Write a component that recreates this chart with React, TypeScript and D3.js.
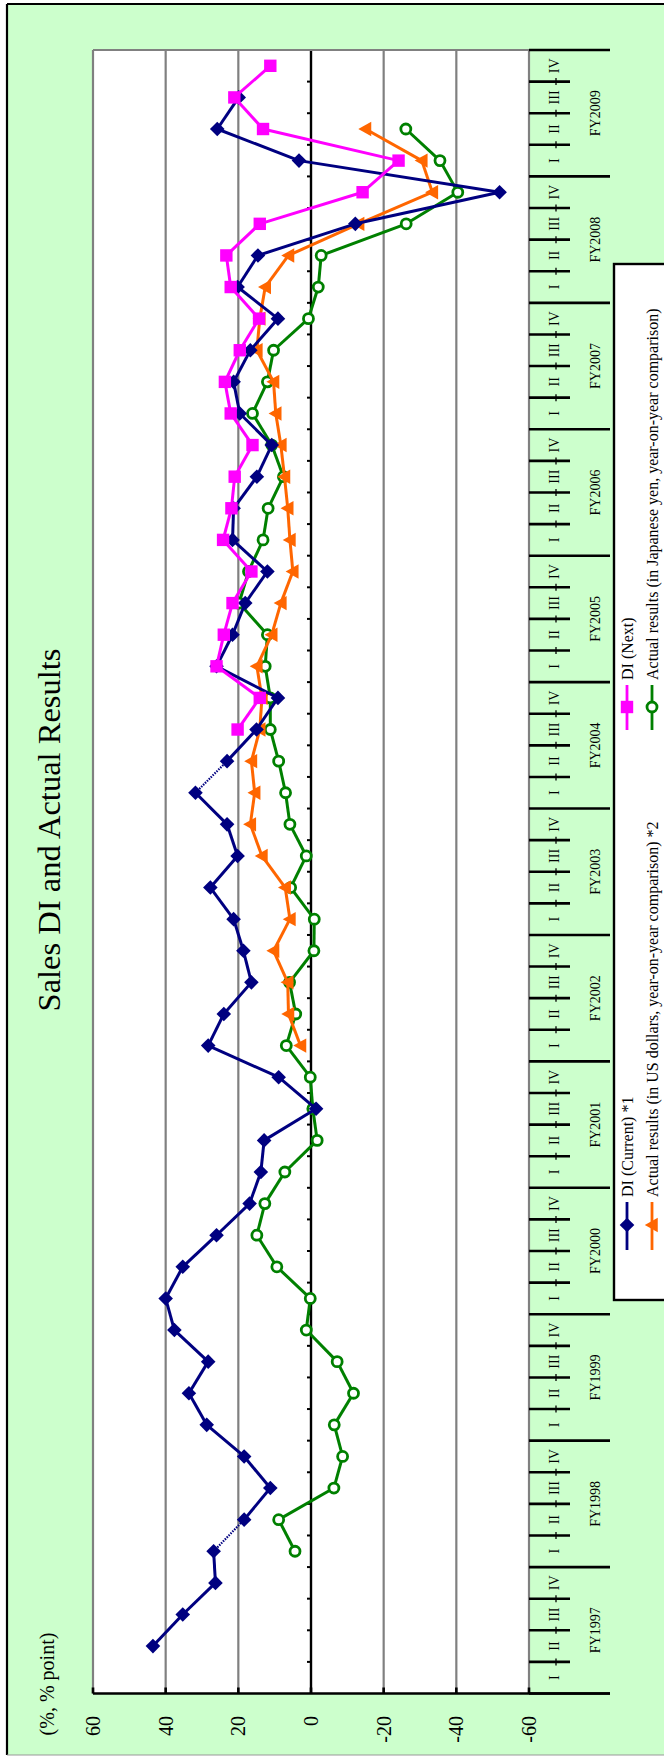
import React from "react";
import * as d3 from "d3";

// ---------- data ----------
const fiscalYears = ["FY1997","FY1998","FY1999","FY2000","FY2001","FY2002","FY2003","FY2004","FY2005","FY2006","FY2007","FY2008","FY2009"];
const quarterLabels = ["I","II","III","IV"];
const valueTicks = [60, 40, 20, 0, -20, -40, -60];

// index 0 = FY1997 I ... 51 = FY2009 IV
const diCurrent: (number | null)[] = [
  null, 43.5, 35.3, 26.3, 26.8, 18.4, 11.2, 18.4,
  28.7, 33.6, 28.3, 37.6, 40.0, 35.3, 26.0, 16.9,
  13.8, 12.9, -1.4, 8.9, 28.3, 24.0, 16.4, 18.6,
  21.3, 27.7, 20.2, 23.1, 31.8, 23.1, 15.0, 9.1,
  26.0, 21.6, 18.1, 12.0, 21.6, 21.3, 14.9, 10.8,
  19.6, 21.3, 16.7, 9.1, 20.2, 14.6, -12.2, -51.9,
  3.3, 25.8, 19.9, null,
];
const diCurrentDottedAfter = [4, 28]; // segments i -> i+1 drawn dotted

const diNext: (number | null)[] = [
  null, null, null, null, null, null, null, null,
  null, null, null, null, null, null, null, null,
  null, null, null, null, null, null, null, null,
  null, null, null, null, null, null, 20.2, 14.1,
  26.0, 24.0, 21.6, 16.4, 24.2, 21.9, 21.0, 16.1,
  22.1, 23.7, 19.6, 14.3, 22.1, 23.3, 14.1, -14.2,
  -24.1, 13.2, 21.1, 11.2,
];

const usdActual: (number | null)[] = [
  null, null, null, null, null, null, null, null,
  null, null, null, null, null, null, null, null,
  null, null, null, null, 2.9, 6.2, 6.4, 10.3,
  5.8, 7.1, 13.5, 16.7, 15.5, 16.4, 14.1, 13.5,
  14.9, 10.8, 8.3, 5.0, 5.8, 6.4, 7.3, 8.3,
  9.7, 10.3, 14.9, 14.1, 12.6, 6.2, -13.1, -33.4,
  -30.5, -15.0, null, null,
];

const jpyActual: (number | null)[] = [
  null, null, null, null, 4.4, 8.9, -6.3, -8.7,
  -6.4, -11.7, -7.2, 1.3, 0.2, 9.4, 14.9, 12.7,
  7.2, -1.7, -0.5, 0.2, 6.8, 4.2, 5.9, -0.8,
  -0.9, 5.6, 1.3, 5.8, 7.0, 8.9, 11.2, 11.2,
  12.6, 12.0, 19.8, 17.2, 13.2, 11.8, 7.6, 10.8,
  16.1, 12.0, 10.3, 0.7, -2.0, -2.8, -26.2, -40.4,
  -35.5, -26.1, null, null,
];

const legendLabels = [
  "DI (Current) *1",
  "Actual results (in US dollars, year-on-year comparison) *2",
  "DI (Next)",
  "Actual results (in Japanese yen, year-on-year comparison)",
];

const NAVY = "#000080";
const MAGENTA = "#FF00FF";
const ORANGE = "#FF6600";
const GREEN = "#008000";
const GRID = "#808080";
const BG = "#CCFFCC";
const FONT = "'Liberation Serif', 'Times New Roman', serif";

// ---------- layout ----------
const W = 664, H = 1756;
const PL = 93, PR = 529, PT = 50, PB = 1693.5;

const x = d3.scaleLinear().domain([60, -60]).range([PL, PR]);
const nQ = fiscalYears.length * 4;
const idx = d3.range(nQ);
const y = d3.scaleBand<number>().domain(idx).range([PB, PT]).paddingInner(0).paddingOuter(0);
const bw = y.bandwidth();
const yc = (i: number) => (y(i) as number) + bw / 2;
const yBound = (i: number) => (i < nQ ? (y(i) as number) + bw : (y(nQ - 1) as number));

type Shape = "diamond" | "square" | "triangle" | "circle";

function Marker({ shape, cx, cy, color }: { shape: Shape; cx: number; cy: number; color: string }) {
  if (shape === "diamond") {
    const s = 7.3;
    return <path d={`M${cx},${cy - s}L${cx + s},${cy}L${cx},${cy + s}L${cx - s},${cy}Z`} fill={color} />;
  }
  if (shape === "square") {
    const s = 6.2;
    return <rect x={cx - s} y={cy - s} width={2 * s} height={2 * s} fill={color} />;
  }
  if (shape === "triangle") {
    const s = 7.2;
    return <path d={`M${cx - s},${cy}L${cx + s * 0.8},${cy - s}L${cx + s * 0.8},${cy + s}Z`} fill={color} />;
  }
  return <circle cx={cx} cy={cy} r={5} fill="#fff" stroke={color} strokeWidth={2.8} />;
}

function Series({ data, color, shape, dottedAfter = [] }: { data: (number | null)[]; color: string; shape: Shape; dottedAfter?: number[] }) {
  const line = d3
    .line<[number, number]>()
    .x((d) => x(d[1]))
    .y((d) => yc(d[0]));
  const segs: React.ReactNode[] = [];
  for (let i = 0; i < data.length - 1; i++) {
    const a = data[i], b = data[i + 1];
    if (a == null || b == null) continue;
    const dotted = dottedAfter.includes(i);
    segs.push(
      <path
        key={"s" + i}
        d={line([[i, a], [i + 1, b]]) || ""}
        fill="none"
        stroke={color}
        strokeWidth={dotted ? 2.2 : 3}
        strokeDasharray={dotted ? "1.5 1.2" : undefined}
      />
    );
  }
  const marks = data.map((v, i) =>
    v == null ? null : <Marker key={"m" + i} shape={shape} cx={x(v)} cy={yc(i)} color={color} />
  );
  return (
    <g>
      {segs}
      {marks}
    </g>
  );
}

function VText({ x: tx, y: ty, size, anchor = "middle", children }: { x: number; y: number; size: number; anchor?: string; children: React.ReactNode }) {
  return (
    <text
      transform={`translate(${tx},${ty}) rotate(-90)`}
      textAnchor={anchor as any}
      dominantBaseline="central"
      fontFamily={FONT}
      fontSize={size}
      fill="#000"
    >
      {children}
    </text>
  );
}

export default function App() {
  const legend = [
    { label: legendLabels[0], color: NAVY, shape: "diamond" as Shape, cx: 627, l1: 1202, l2: 1250, my: 1225, ty: 1197 },
    { label: legendLabels[1], color: ORANGE, shape: "triangle" as Shape, cx: 652, l1: 1202, l2: 1250, my: 1225, ty: 1197 },
    { label: legendLabels[2], color: MAGENTA, shape: "square" as Shape, cx: 627, l1: 685, l2: 730, my: 707, ty: 680 },
    { label: legendLabels[3], color: GREEN, shape: "circle" as Shape, cx: 652, l1: 685, l2: 730, my: 707, ty: 680 },
  ];

  return (
    <div style={{ position: "absolute", left: 0, top: 0 }}>
      <svg width={W} height={H} style={{ display: "block" }}>
        {/* background frame */}
        <rect x={0} y={0} width={W} height={H} fill="#fff" />
        <rect x={7} y={4} width={W + 20} height={1751} fill={BG} />
        <line x1={7} y1={4} x2={W} y2={4} stroke="#000" strokeWidth={2.2} />
        <line x1={7} y1={4} x2={7} y2={1755} stroke="#000" strokeWidth={2.2} />
        <line x1={7} y1={1755} x2={W} y2={1755} stroke="#999" strokeWidth={1} />

        {/* title */}
        <text
          transform={`translate(60,830) rotate(-90)`}
          textAnchor="middle"
          fontFamily={FONT}
          fontSize={32.5}
          fill="#000"
        >
          Sales DI and Actual Results
        </text>

        {/* plot area */}
        <rect x={PL} y={PT} width={PR - PL} height={PB - PT} fill="#fff" />
        {valueTicks.map((v) => (
          <line key={"g" + v} x1={x(v)} x2={x(v)} y1={PT} y2={PB} stroke={v === 0 ? "#000" : GRID} strokeWidth={v === 0 ? 2.4 : 2.2} />
        ))}
        <line x1={PL} x2={PR} y1={PT} y2={PT} stroke={GRID} strokeWidth={2.2} />

        {/* minor ticks on zero line */}
        {d3.range(1, nQ).map((i) => (
          <line key={"zt" + i} x1={x(0) - 4} x2={x(0)} y1={yBound(i)} y2={yBound(i)} stroke="#000" strokeWidth={2} />
        ))}

        {/* category table */}
        {d3.range(0, nQ + 1).map((i) => {
          const yy = i === nQ ? PT : yBound(i);
          const isYear = i % 4 === 0;
          return (
            <g key={"ct" + i}>
              <line x1={PR} x2={isYear ? 610 : 570} y1={yy} y2={yy} stroke="#000" strokeWidth={2.6} />
              {!isYear && <line x1={556} x2={556} y1={yy - 3.5} y2={yy + 3.5} stroke="#000" strokeWidth={1.3} />}
            </g>
          );
        })}
        {idx.map((i) => (
          <VText key={"q" + i} x={554} y={yc(i)} size={14}>
            {quarterLabels[i % 4]}
          </VText>
        ))}
        {fiscalYears.map((fy, k) => (
          <VText key={fy} x={595} y={(yc(k * 4) + yc(k * 4 + 3)) / 2} size={14}>
            {fy}
          </VText>
        ))}

        {/* value axis */}
        <line x1={PL} x2={610} y1={PB} y2={PB} stroke="#000" strokeWidth={2.6} />
        {valueTicks.map((v) => (
          <line key={"vt" + v} x1={x(v)} x2={x(v)} y1={PB - 6} y2={PB} stroke="#000" strokeWidth={2.6} />
        ))}
        {valueTicks.map((v) => (
          <VText key={"vl" + v} x={x(v)} y={1716} size={20} anchor="end">
            {String(v)}
          </VText>
        ))}
        <VText x={47} y={1684} size={20}>
          (%, % point)
        </VText>

        {/* series */}
        <Series data={jpyActual} color={GREEN} shape="circle" />
        <Series data={usdActual} color={ORANGE} shape="triangle" />
        <Series data={diCurrent} color={NAVY} shape="diamond" dottedAfter={diCurrentDottedAfter} />
        <Series data={diNext} color={MAGENTA} shape="square" />

        {/* legend */}
        <rect x={614} y={264} width={100} height={1036} fill="#fff" stroke="#000" strokeWidth={2.4} />
        {legend.map((e) => (
          <g key={e.label}>
            <line x1={e.cx} x2={e.cx} y1={e.l1} y2={e.l2} stroke={e.color} strokeWidth={2.8} />
            <Marker shape={e.shape} cx={e.cx} cy={e.my} color={e.color} />
            <VText x={e.cx} y={e.ty} size={16} anchor="start">
              {e.label}
            </VText>
          </g>
        ))}
      </svg>
    </div>
  );
}
